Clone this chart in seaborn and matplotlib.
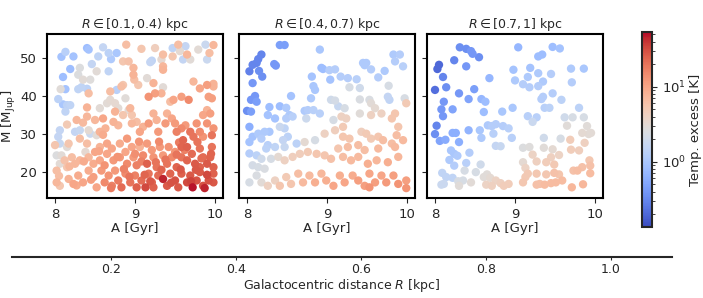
import matplotlib
matplotlib.use("Agg")
import matplotlib.pyplot as plt
from matplotlib.colors import LogNorm
from matplotlib import cm
import seaborn as sns
import numpy as np
import pandas as pd

# ---- panel 1: R in [0.1, 0.4) kpc  (age A [Gyr], mass M [Mjup], temp. excess T [K])
a1 = [8.08, 8.13, 8.23, 8.19, 8.40, 8.42, 8.31, 8.46, 8.54, 8.60, 8.67, 8.77, 8.70, 8.67, 8.52, 8.89, 8.85, 8.92,
      8.98, 8.98, 9.21, 9.19, 9.08, 9.25, 9.33, 9.35, 9.35, 9.35, 9.47, 9.54, 9.56, 9.47, 9.63, 9.60, 9.69, 9.79,
      9.88, 9.98, 9.90, 9.93, 9.65,
      8.10, 8.13, 8.07, 8.04, 8.10, 8.15, 8.19, 8.13, 8.29, 8.33, 8.40, 8.44, 8.35, 8.29, 8.42, 8.40, 8.56, 8.65,
      8.69, 8.69, 8.75, 8.77, 8.83, 8.85, 8.88, 8.79, 8.94, 8.99, 9.04, 9.15, 9.17, 9.23, 9.25, 9.35, 9.33, 9.44,
      9.48, 9.58, 9.67, 9.73, 9.81, 9.90, 9.98, 9.98, 9.92, 9.96, 9.90, 9.94, 9.85,
      8.06, 8.04, 8.00, 8.06, 8.17, 8.15, 8.25, 8.31, 8.42, 8.44, 8.52, 8.31, 8.27, 8.40, 8.50, 8.60, 8.63, 8.56,
      8.73, 8.75, 8.79, 8.85, 8.92, 8.96, 8.96, 9.02, 9.06, 9.10, 9.17, 9.23, 9.27, 9.29, 9.38, 9.40, 9.46, 9.50,
      9.52, 9.58, 9.63, 9.69, 9.73, 9.77, 9.81, 9.85, 9.96, 9.98, 9.90, 9.60, 9.65, 9.58,
      8.02, 8.08, 8.12, 8.06, 8.15, 8.02, 8.21, 8.25, 8.31, 8.38, 8.40, 8.42, 8.50, 8.48, 8.56, 8.56, 8.65, 8.65,
      8.71, 8.73, 8.81, 8.81, 8.88, 8.90, 8.96, 8.98, 9.02, 9.06, 9.10, 9.15, 9.15, 9.21, 9.23, 9.27, 9.31, 9.35,
      9.40, 9.42, 9.46, 9.50, 9.52, 9.58, 9.65, 9.71, 9.75, 9.81, 9.85, 9.90, 9.94, 9.98, 9.81, 9.96,
      8.02, 8.06, 8.17, 8.23, 8.29, 8.35, 8.42, 8.48, 8.52, 8.58, 8.62, 8.67, 8.71, 8.75, 8.79, 8.83, 8.88, 8.94,
      9.00, 9.02, 9.08, 9.13, 9.17, 9.21, 9.23, 9.29, 9.35, 9.40, 9.44, 9.50, 9.54, 9.58, 9.65, 9.69, 9.72, 9.77,
      9.81, 9.85, 9.87, 9.92, 9.98, 9.98,
      8.05, 8.18, 8.27, 8.36, 8.45, 8.55, 8.62, 8.70, 8.78, 8.86, 8.93, 9.00, 9.08, 9.12, 9.19, 9.26, 9.33, 9.38,
      9.45, 9.52, 9.57, 9.62, 9.70, 9.76, 9.83, 9.90, 9.95, 8.90, 9.05, 9.30, 9.55, 9.78, 8.60, 8.35, 8.15]
m1 = [50.3, 51.6, 50.4, 47.1, 52.6, 52.2, 47.4, 48.4, 50.4, 52.8, 51.3, 51.3, 49.7, 46.5, 46.5, 53.5, 49.1, 49.1,
      47.4, 45.6, 49.3, 48.9, 52.4, 52.6, 49.6, 50.9, 47.8, 46.9, 52.6, 53.5, 51.8, 50.4, 53.1, 49.6, 49.6, 52.2,
      53.5, 53.4, 49.6, 51.3, 50.9,
      45.0, 41.8, 41.8, 39.2, 37.8, 37.6, 37.6, 35.9, 41.8, 42.3, 41.9, 44.3, 44.3, 45.6, 40.7, 37.0, 36.8, 38.1,
      39.0, 41.2, 38.1, 41.6, 42.5, 42.9, 39.4, 36.8, 36.8, 44.3, 42.9, 44.7, 39.8, 43.4, 40.7, 42.3, 40.7, 38.5,
      39.0, 39.8, 39.0, 43.8, 42.0, 42.9, 43.2, 42.5, 39.8, 39.4, 36.3, 35.4, 35.0,
      31.0, 29.3, 27.1, 27.5, 27.5, 26.6, 30.6, 31.0, 31.0, 30.1, 29.7, 28.8, 33.7, 34.6, 33.7, 34.1, 31.5, 30.6,
      33.2, 35.9, 32.3, 35.0, 36.3, 35.0, 32.8, 33.2, 30.6, 31.9, 32.8, 35.4, 33.7, 30.6, 32.8, 35.4, 34.1, 32.8,
      30.6, 31.5, 32.3, 30.6, 29.3, 32.8, 30.6, 29.3, 29.7, 31.5, 32.8, 28.4, 26.6, 26.6,
      24.4, 24.4, 23.1, 22.2, 21.3, 20.4, 23.9, 22.2, 23.1, 25.3, 27.5, 23.9, 25.3, 22.2, 26.6, 23.1, 27.5, 24.8,
      26.2, 23.1, 27.5, 23.9, 25.3, 22.2, 26.6, 23.9, 21.8, 26.6, 24.4, 27.5, 22.2, 25.8, 23.9, 21.3, 26.6, 24.4,
      22.2, 26.6, 23.9, 25.3, 21.3, 23.9, 23.1, 24.8, 22.2, 26.2, 23.9, 22.2, 23.9, 21.3, 21.3, 26.6,
      17.3, 16.4, 18.2, 16.9, 19.1, 17.3, 20.4, 18.7, 16.0, 20.4, 17.3, 19.1, 16.4, 20.4, 17.8, 16.0, 19.6, 17.3,
      19.1, 16.0, 17.8, 16.0, 19.6, 17.3, 16.0, 19.1, 18.2, 16.4, 19.6, 17.8, 16.0, 19.6, 17.3, 19.1, 16.0, 17.8,
      20.0, 16.4, 15.8, 17.8, 17.3, 19.6,
      19.0, 21.5, 16.5, 22.8, 18.0, 25.5, 21.8, 15.8, 24.0, 20.8, 18.8, 24.8, 22.8, 19.3, 17.6, 22.6, 20.6, 23.3,
      17.2, 24.6, 20.7, 25.8, 17.6, 20.6, 23.6, 19.3, 24.8, 28.8, 28.0, 28.0, 27.8, 27.9, 29.8, 33.0, 32.5]
t1 = [0.9, 1.3, 0.9, 0.8, 0.8, 0.9, 2.6, 1.6, 1.5, 1.6, 1.4, 1.0, 1.1, 1.5, 3.0, 6.5, 5.5, 6.0,
      7.5, 8.0, 1.5, 1.6, 5.5, 4.5, 3.3, 6.5, 7.5, 8.0, 1.5, 6.5, 3.2, 5.5, 1.6, 1.6, 3.0, 3.1,
      1.8, 7.5, 1.8, 6.5, 7.5,
      0.8, 0.9, 2.9, 1.4, 1.0, 1.4, 1.5, 1.5, 1.5, 1.5, 1.4, 2.8, 3.0, 2.6, 6.5, 8.0, 3.1, 3.1,
      3.2, 6.5, 3.3, 1.3, 6.5, 5.5, 2.9, 3.1, 7.5, 6.5, 5.5, 3.0, 13.0, 8.0, 11.0, 3.0, 8.0, 6.5,
      10.0, 11.0, 15.0, 7.5, 10.0, 11.0, 8.0, 8.0, 11.0, 11.0, 8.0, 11.0, 10.0,
      1.6, 1.6, 5.5, 1.7, 5.5, 3.0, 1.6, 1.7, 3.2, 1.8, 3.1, 6.5, 7.5, 7.5, 7.5, 10.0, 8.0, 8.0,
      8.0, 8.0, 7.5, 5.5, 3.3, 5.5, 7.5, 6.5, 10.0, 8.0, 12.0, 8.0, 8.0, 12.0, 12.0, 8.0, 10.0, 12.0,
      17.0, 15.0, 12.0, 20.0, 20.0, 13.0, 15.0, 13.0, 20.0, 13.0, 13.0, 24.0, 25.0, 24.0,
      2.6, 3.0, 6.0, 3.1, 5.5, 6.5, 6.5, 7.5, 7.5, 3.3, 6.5, 7.5, 10.0, 9.0, 8.0, 10.0, 10.0, 10.0,
      10.0, 12.0, 9.0, 12.0, 10.0, 15.0, 10.0, 12.0, 17.0, 8.0, 15.0, 12.0, 25.0, 12.0, 13.0, 20.0, 12.0, 12.0,
      20.0, 13.0, 15.0, 13.0, 24.0, 20.0, 24.0, 22.0, 27.0, 20.0, 22.0, 27.0, 24.0, 25.0, 25.0, 20.0,
      7.5, 5.5, 8.0, 10.0, 9.0, 10.0, 9.0, 11.0, 10.0, 12.0, 15.0, 13.0, 17.0, 12.0, 18.0, 22.0, 15.0, 20.0,
      17.0, 25.0, 22.0, 33.0, 20.0, 24.0, 25.0, 22.0, 45.0, 27.0, 24.0, 30.0, 27.0, 25.0, 33.0, 28.0, 50.0, 30.0,
      27.0, 30.0, 45.0, 30.0, 28.0, 25.0,
      6.5, 7.5, 9.0, 9.0, 11.0, 10.0, 13.0, 18.0, 13.0, 17.0, 20.0, 14.0, 17.0, 24.0, 28.0, 20.0, 24.0, 20.0,
      30.0, 20.0, 28.0, 17.0, 35.0, 28.0, 22.0, 33.0, 24.0, 12.0, 13.0, 15.0, 18.0, 20.0, 9.0, 7.0, 5.0]

# ---- panel 2: R in [0.4, 0.7) kpc
a2 = [8.41, 8.47, 8.18, 8.14, 8.12, 8.07, 8.03, 8.15, 8.19, 8.34, 8.36, 8.07, 8.10, 8.05, 8.12, 8.00, 8.05,
      8.91, 8.93, 8.95, 9.03, 9.10, 9.04, 8.81, 9.17, 9.26, 9.37, 9.28, 9.45, 9.49, 9.47, 9.55, 9.64, 9.72,
      9.83, 9.91, 9.95, 9.85, 9.77, 9.41, 8.83, 8.85, 8.80, 8.55, 8.41, 8.28, 8.26, 8.35, 8.49, 8.53, 8.57,
      8.49, 8.72, 8.76, 8.83, 8.91, 8.74, 9.05, 9.10, 9.14, 9.22, 9.18, 9.24, 9.08, 9.41, 9.53, 9.55, 9.60,
      9.78, 9.76, 9.97, 9.99, 9.41, 9.55, 9.68, 9.85, 9.81,
      8.03, 8.07, 8.03, 8.14, 8.22, 8.28, 8.18, 8.26, 8.24, 8.35, 8.41, 8.47, 8.51, 8.45, 8.47, 8.62, 8.72,
      8.85, 8.97, 9.10, 9.20, 9.20, 9.28, 9.43, 9.49, 9.55, 9.64, 9.70, 9.81, 9.89, 9.87, 9.95, 9.14, 9.26,
      9.39, 9.47, 9.64, 9.85,
      8.03, 8.12, 8.18, 8.07, 8.14, 8.22, 8.30, 8.39, 8.47, 8.57, 8.66, 8.76, 8.87, 8.97, 9.05, 9.20, 9.30,
      9.39, 9.51, 9.62, 9.76, 9.89, 8.03, 8.12, 8.18, 8.26, 8.35, 8.41, 8.49, 8.55, 8.64, 8.70, 8.78, 8.85,
      8.93, 8.99, 9.08, 9.16, 9.22, 9.32, 9.39, 9.47, 9.53, 9.60, 9.68, 9.74, 9.83, 9.89, 9.99, 9.99, 9.53]
m2 = [53.4, 53.4, 50.9, 49.7, 48.7, 48.2, 46.5, 46.6, 45.1, 48.4, 48.0, 43.4, 40.0, 39.0, 38.5, 36.1, 35.9,
      52.2, 47.4, 47.1, 46.8, 47.0, 44.3, 45.1, 45.1, 44.7, 44.4, 42.3, 48.7, 48.7, 48.1, 47.0, 44.9, 46.6,
      50.9, 50.9, 47.8, 49.1, 42.7, 42.1, 42.6, 41.6, 39.4, 40.0, 37.3, 37.1, 35.0, 34.1, 36.9, 35.0, 34.6,
      34.1, 36.1, 36.3, 36.3, 35.4, 34.1, 39.0, 38.8, 37.3, 36.8, 34.6, 34.1, 33.7, 39.1, 39.0, 38.1, 36.8,
      39.0, 39.8, 39.4, 38.1, 35.4, 35.0, 35.4, 35.4, 34.1,
      31.9, 29.3, 27.9, 30.1, 30.6, 30.6, 28.8, 27.1, 26.2, 26.6, 31.9, 31.5, 29.3, 28.4, 26.6, 27.5, 27.9,
      28.4, 30.1, 31.0, 31.9, 29.3, 28.8, 30.6, 30.1, 28.8, 29.3, 28.4, 27.5, 31.9, 29.7, 28.4, 26.2, 26.6,
      27.1, 25.8, 26.2, 26.6,
      24.9, 24.4, 23.5, 21.8, 21.3, 20.9, 23.5, 24.0, 23.1, 24.0, 24.8, 25.3, 24.8, 24.4, 23.5, 24.0, 23.1,
      24.0, 22.2, 23.1, 22.6, 24.0, 17.3, 19.1, 17.3, 16.4, 17.8, 16.4, 18.7, 16.9, 19.6, 17.3, 19.1, 17.3,
      19.6, 17.8, 16.4, 19.1, 17.3, 19.1, 17.8, 16.4, 19.6, 17.3, 19.1, 17.3, 19.1, 16.9, 17.8, 15.8, 16.0]
t2 = [0.45, 0.45, 0.3, 0.3, 0.3, 0.3, 0.28, 0.35, 0.35, 0.4, 0.4, 0.4, 0.4, 0.4, 0.45, 0.35, 0.45,
      1.0, 0.8, 0.8, 1.2, 1.2, 0.9, 0.9, 1.2, 1.2, 1.3, 2.3, 1.1, 1.1, 1.1, 1.2, 1.2, 1.1,
      1.1, 1.2, 1.3, 1.2, 2.3, 2.0, 1.0, 1.0, 1.1, 0.9, 0.8, 0.8, 0.9, 0.9, 1.1, 1.1, 1.3,
      1.2, 1.1, 1.2, 1.3, 1.3, 1.9, 2.0, 2.2, 1.7, 2.3, 4.2, 4.2, 2.3, 2.5, 2.5, 3.0, 3.2,
      1.5, 1.6, 2.4, 5.0, 2.9, 4.2, 4.2, 5.5, 5.5,
      0.6, 0.9, 0.9, 1.1, 1.1, 1.0, 1.2, 1.3, 1.4, 1.5, 1.8, 1.5, 1.4, 1.6, 1.7, 1.4, 3.2,
      2.3, 4.2, 4.5, 5.0, 5.5, 5.5, 4.5, 5.0, 5.0, 5.5, 6.5, 6.5, 5.5, 6.5, 7.0, 5.5, 6.5,
      6.5, 6.5, 7.0, 7.0,
      1.2, 1.4, 2.0, 2.2, 2.3, 2.5, 2.3, 3.2, 4.2, 4.5, 4.6, 5.0, 5.5, 5.5, 6.0, 6.5, 7.0,
      7.0, 8.5, 7.5, 8.5, 7.5, 2.3, 2.5, 3.0, 4.2, 4.2, 5.5, 5.0, 5.5, 6.5, 7.0, 7.0, 8.5,
      7.5, 8.5, 10.0, 8.5, 10.0, 9.0, 11.0, 11.0, 10.0, 11.0, 10.0, 12.0, 11.0, 13.0, 11.0, 13.0, 13.0]

# ---- panel 3: R in [0.7, 1] kpc
a3 = [8.31, 8.39, 8.45, 8.47, 8.55, 8.24, 8.05, 8.03, 8.10, 8.39, 8.14, 8.00, 8.30, 8.49, 8.11, 8.08, 8.10,
      8.42, 8.22, 8.02, 8.00, 8.06, 8.13, 8.22, 8.26, 8.30, 8.42, 8.58, 8.63, 8.68, 8.61, 8.56, 8.58, 8.66,
      8.71, 8.76, 8.85, 8.84, 8.73, 8.92, 8.76, 8.82, 8.96, 8.97, 9.04, 8.98, 9.00, 9.10, 9.16, 9.19, 9.18,
      9.29, 9.35, 9.29, 9.34, 9.29, 9.33, 9.35, 9.37, 9.16, 9.27, 9.22, 9.47, 9.56, 9.47, 9.43, 9.58, 9.45,
      9.70, 9.86, 9.71, 9.80, 9.62, 9.72, 9.86, 9.65, 9.90, 9.84, 9.92, 9.95, 9.69, 9.87, 9.80, 9.70,
      9.36, 9.57, 9.36, 9.47, 9.55, 9.45, 9.39, 9.49, 9.10, 9.18, 9.10, 9.13, 9.22, 9.27, 9.16, 9.27, 9.39,
      9.49, 9.55, 9.13, 9.31, 9.37, 9.45, 9.51, 9.59, 9.71, 9.73, 9.78, 9.84, 9.93, 9.94, 9.94, 9.85, 9.27,
      9.10, 8.65, 8.61, 8.69, 8.76, 8.82, 8.64, 8.86, 8.92, 8.71, 8.57, 8.51, 8.45, 8.37, 8.35, 8.29, 8.22,
      8.14, 8.09, 8.11, 8.08, 8.30, 8.24, 8.18, 8.20, 8.24, 8.28, 8.39, 8.43]
m3 = [52.8, 52.4, 51.8, 51.1, 50.2, 49.4, 48.2, 47.1, 45.0, 47.8, 42.3, 41.6, 40.7, 41.8, 38.5, 36.5, 34.7,
      39.2, 36.5, 32.2, 30.0, 28.2, 28.5, 30.3, 30.3, 27.9, 31.0, 39.2, 38.5, 44.7, 35.8, 31.0, 29.0, 32.3,
      32.1, 32.6, 32.1, 35.9, 30.1, 31.5, 26.9, 26.8, 29.0, 36.9, 52.8, 46.9, 44.1, 43.1, 45.0, 47.4, 42.3,
      42.6, 43.8, 50.4, 50.9, 46.0, 39.2, 39.8, 36.9, 34.7, 34.4, 33.2, 52.9, 52.5, 40.7, 36.9, 39.0, 45.8,
      47.2, 47.2, 43.6, 36.9, 34.4, 34.4, 34.4, 32.2, 32.1, 30.3, 30.0, 30.3, 28.5, 27.7, 25.7, 25.9,
      29.0, 28.8, 26.4, 26.0, 24.5, 23.9, 22.6, 22.0, 26.4, 26.6, 22.6, 21.1, 24.6, 22.8, 19.6, 19.6, 19.4,
      19.8, 19.4, 18.7, 16.9, 16.7, 17.1, 17.3, 17.8, 16.0, 20.4, 20.4, 21.3, 23.1, 21.7, 19.7, 16.8, 16.7,
      17.3, 19.4, 18.7, 18.5, 17.8, 17.1, 16.7, 16.4, 16.9, 16.4, 22.0, 20.0, 17.3, 20.4, 17.8, 17.6, 18.5,
      18.7, 19.8, 16.9, 16.7, 16.4, 21.7, 23.2, 25.7, 24.8, 24.3, 22.4, 25.1]
t3 = [0.35, 0.35, 0.4, 0.4, 0.35, 0.3, 0.2, 0.2, 0.3, 0.4, 0.35, 0.22, 0.4, 0.45, 0.4, 0.4, 0.4,
      0.5, 0.5, 0.3, 0.35, 0.5, 0.55, 0.6, 0.6, 0.6, 0.65, 0.7, 0.8, 0.7, 0.8, 1.0, 1.1, 1.1,
      1.2, 1.2, 1.2, 1.0, 1.3, 1.3, 1.6, 1.7, 1.3, 1.0, 0.7, 0.9, 1.1, 1.2, 1.1, 0.9, 1.2,
      1.2, 1.1, 0.8, 0.8, 1.1, 1.2, 1.2, 1.3, 1.3, 1.3, 1.8, 0.8, 0.9, 1.2, 1.4, 1.4, 1.2,
      1.1, 1.0, 1.2, 1.4, 2.0, 2.3, 2.3, 2.9, 2.9, 3.2, 3.1, 3.1, 4.7, 4.3, 4.5, 4.7,
      2.0, 2.3, 2.9, 3.2, 4.0, 4.3, 4.7, 5.1, 2.6, 2.8, 3.2, 4.0, 4.0, 4.3, 5.1, 5.4, 5.4,
      6.1, 5.7, 5.1, 6.1, 6.8, 6.8, 6.8, 6.8, 7.4, 6.1, 6.5, 6.1, 5.4, 6.1, 6.8, 7.4, 6.1,
      5.4, 2.9, 2.9, 3.2, 4.0, 4.3, 4.0, 4.7, 4.7, 4.3, 2.0, 2.3, 3.0, 2.3, 2.3, 2.4, 1.5,
      1.5, 1.5, 1.8, 1.8, 2.9, 1.2, 1.1, 1.0, 1.0, 1.1, 1.3, 1.2]

titles = [r"$R \in [0.1, 0.4)$ kpc", r"$R \in [0.4, 0.7)$ kpc", r"$R \in [0.7, 1]$ kpc"]
r_ticks = [0.2, 0.4, 0.6, 0.8, 1.0]

sns.set_style("ticks")
plt.rcParams["font.family"] = ["DejaVu Sans"]
plt.rcParams["font.size"] = 9

norm = LogNorm(vmin=0.135, vmax=54)

fig = plt.figure(figsize=(7.03, 2.98), dpi=100)
lefts = [0.0669, 0.340, 0.6074]
axs = [fig.add_axes([l, 0.3356, 0.2504, 0.5503]) for l in lefts]

panels = [(a1, m1, t1), (a2, m2, t2), (a3, m3, t3)]
for i, (a, m, t) in enumerate(panels):
    df = pd.DataFrame({"A": a, "M": m, "T": t}).sort_values("T")
    sns.scatterplot(data=df, x="A", y="M", hue="T", hue_norm=norm, palette="coolwarm",
                    s=36, linewidth=0, legend=False, ax=axs[i])
    axs[i].set_xlim(7.9, 10.1)
    axs[i].set_ylim(13.2, 56.3)
    axs[i].set_xticks([8, 9, 10])
    axs[i].set_yticks([20, 30, 40, 50])
    axs[i].tick_params(labelsize=9.5, length=3.5)
    axs[i].set_title(titles[i], fontsize=9, pad=4)
    axs[i].set_xlabel("A [Gyr]", fontsize=9.5, labelpad=1)
    for s in axs[i].spines.values():
        s.set_linewidth(1.5)
        s.set_color("black")
    if i == 0:
        axs[i].set_ylabel(r"M [M$_{\rm Jup}$]", fontsize=9.5, labelpad=2)
    else:
        axs[i].set_ylabel("")
        axs[i].set_yticklabels([])

# colorbar
cax = fig.add_axes([0.9132, 0.2383, 0.0142, 0.6544])
sm = cm.ScalarMappable(norm=norm, cmap="coolwarm")
cb = fig.colorbar(sm, cax=cax)
cb.set_label("Temp. excess [K]", fontsize=9.5, labelpad=2)
cb.ax.tick_params(labelsize=9.5)
cb.outline.set_linewidth(1.5)

# galactocentric distance axis
rax = fig.add_axes([0.017, 0.1376, 0.9388, 0.0001])
rax.set_xlim(0.042, 1.098)
rax.set_xticks(r_ticks)
rax.set_xticklabels([f"{v:.1f}" for v in r_ticks], fontsize=9)
rax.set_yticks([])
for side in ["left", "right", "top"]:
    rax.spines[side].set_visible(False)
rax.spines["bottom"].set_linewidth(1.5)
rax.tick_params(axis="x", length=2, pad=2)
rax.set_xlabel(r"Galactocentric distance $R$ [kpc]", fontsize=9, labelpad=1)

fig.savefig("out.png", dpi=100)
